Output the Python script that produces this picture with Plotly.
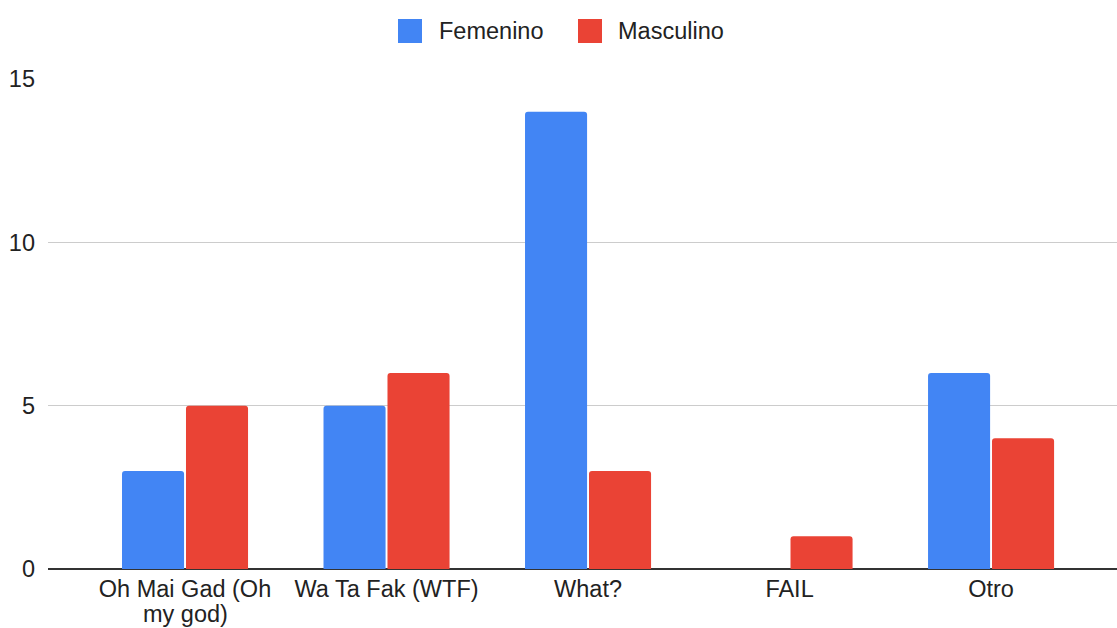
import plotly.graph_objects as go

categories = ["Oh Mai Gad (Oh my god)", "Wa Ta Fak (WTF)", "What?", "FAIL", "Otro"]
tick_line1 = ["Oh Mai Gad (Oh", "Wa Ta Fak (WTF)", "What?", "FAIL", "Otro"]
tick_line2 = ["my god)", "", "", "", ""]
femenino = [3, 5, 14, 0, 6]
masculino = [5, 6, 3, 1, 4]
series_names = ["Femenino", "Masculino"]
colors = ["#4285F4", "#EA4335"]
y_ticks = [0, 5, 10, 15]

W, H = 1117, 628
L, R, T, B = 48, 0, 79, 59
pw = W - L - R
ph = H - T - B

FONT = "Arial, 'Liberation Sans', sans-serif"
TXT = "#222222"
FS = 23.5

fig = go.Figure()
for name, vals, c in zip(series_names, [femenino, masculino], colors):
    fig.add_trace(go.Bar(
        x=list(range(len(categories))), y=vals, name=name,
        marker=dict(color=c, line=dict(width=0), cornerradius=3),
        showlegend=False, hoverinfo="skip",
    ))

def px_x(p):
    return (p - L) / pw

def px_y(p):
    return 1 - (p - T) / ph

# custom legend (large square swatches)
legend_items = [(398, 437), (578, 616)]
for (sx, tx), name, c in zip(legend_items, series_names, colors):
    fig.add_shape(type="rect", xref="paper", yref="paper",
                  x0=px_x(sx), x1=px_x(sx + 24), y0=px_y(43), y1=px_y(19),
                  fillcolor=c, line=dict(width=0), layer="above")
    fig.add_annotation(xref="paper", yref="paper", x=px_x(tx), y=px_y(31),
                       text=name, showarrow=False, xanchor="left", yanchor="middle",
                       font=dict(family=FONT, size=FS, color=TXT))

# second line of wrapped category labels (tighter line spacing)
for i, t in enumerate(tick_line2):
    if t:
        fig.add_annotation(xref="x", yref="paper", x=i, y=px_y(627.5),
                           text=t, showarrow=False, xanchor="center", yanchor="bottom",
                           borderpad=0,
                           font=dict(family=FONT, size=FS, color=TXT))

fig.update_layout(
    width=W, height=H,
    margin=dict(l=L, r=R, t=T, b=B, pad=0, autoexpand=False),
    paper_bgcolor="white", plot_bgcolor="white",
    barmode="group", bargap=0.365, bargroupgap=0.03,
    font=dict(family=FONT, size=FS, color=TXT),
    xaxis=dict(
        range=[-0.68, 4.625], tickmode="array",
        tickvals=list(range(len(categories))), ticktext=tick_line1,
        showgrid=False, zeroline=False, showline=False, ticks="",
        ticklabelstandoff=3, automargin=False,
        tickfont=dict(family=FONT, size=FS, color=TXT),
    ),
    yaxis=dict(
        range=[0, 15], tickmode="array", tickvals=y_ticks,
        ticktext=[str(v) for v in y_ticks],
        showgrid=True, gridcolor="#cccccc", gridwidth=1,
        zeroline=True, zerolinecolor="#333333", zerolinewidth=2,
        showline=False, ticks="", ticklabelstandoff=12, automargin=False,
        tickfont=dict(family=FONT, size=FS, color=TXT),
    ),
)

fig.write_html("out.html", config={"displayModeBar": False},
               post_script="document.body.style.margin='0';")
